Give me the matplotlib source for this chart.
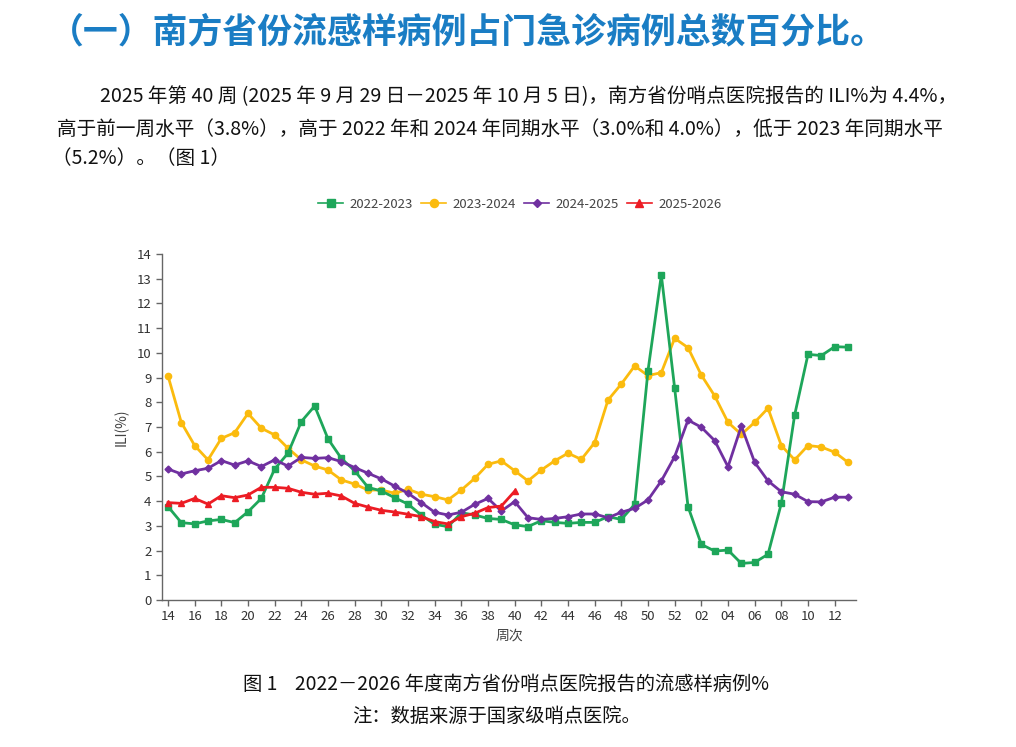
import matplotlib
matplotlib.use("Agg")
import matplotlib.pyplot as plt

plt.rcParams['font.family'] = ['Noto Sans CJK SC', 'DejaVu Sans']

weeks = ["14", "15", "16", "17", "18", "19", "20", "21", "22", "23", "24", "25", "26",
         "27", "28", "29", "30", "31", "32", "33", "34", "35", "36", "37", "38", "39",
         "40", "41", "42", "43", "44", "45", "46", "47", "48", "49", "50", "51", "52",
         "01", "02", "03", "04", "05", "06", "07", "08", "09", "10", "11", "12", "13"]

s2022 = [3.78, 3.13, 3.08, 3.20, 3.26, 3.13, 3.57, 4.11, 5.30, 5.94, 7.22, 7.85, 6.52,
         5.73, 5.23, 4.56, 4.41, 4.14, 3.88, 3.44, 3.06, 2.97, 3.53, 3.44, 3.30, 3.26,
         3.04, 2.97, 3.21, 3.14, 3.10, 3.14, 3.14, 3.37, 3.26, 3.87, 9.28, 13.15, 8.57,
         3.78, 2.25, 1.98, 2.02, 1.48, 1.52, 1.85, 3.91, 7.49, 9.94, 9.89, 10.25, 10.23]

s2023 = [9.07, 7.18, 6.25, 5.67, 6.54, 6.77, 7.55, 6.95, 6.68, 6.14, 5.67, 5.42, 5.26,
         4.86, 4.69, 4.45, 4.45, 4.32, 4.48, 4.28, 4.18, 4.05, 4.45, 4.92, 5.49, 5.63,
         5.23, 4.82, 5.26, 5.63, 5.94, 5.69, 6.37, 8.09, 8.74, 9.47, 9.08, 9.20, 10.59,
         10.21, 9.10, 8.26, 7.19, 6.70, 7.19, 7.76, 6.25, 5.67, 6.25, 6.19, 5.98, 5.57]

s2024 = [5.30, 5.10, 5.23, 5.33, 5.64, 5.46, 5.63, 5.40, 5.67, 5.42, 5.77, 5.73, 5.76,
         5.60, 5.36, 5.13, 4.90, 4.61, 4.32, 3.94, 3.55, 3.44, 3.55, 3.87, 4.11, 3.60,
         3.98, 3.33, 3.26, 3.30, 3.37, 3.48, 3.48, 3.33, 3.55, 3.71, 4.05, 4.82, 5.80,
         7.28, 6.99, 6.45, 5.39, 7.04, 5.57, 4.82, 4.38, 4.28, 3.98, 3.97, 4.16, 4.16]

s2025 = [3.94, 3.91, 4.11, 3.88, 4.22, 4.14, 4.25, 4.56, 4.56, 4.52, 4.36, 4.28, 4.32,
         4.21, 3.91, 3.76, 3.63, 3.56, 3.47, 3.37, 3.17, 3.08, 3.37, 3.51, 3.74, 3.80, 4.40]

series_names = ["2022-2023", "2023-2024", "2024-2025", "2025-2026"]

title = "（一）南方省份流感样病例占门急诊病例总数百分比。"
para = ["2025 年第 40 周 (2025 年 9 月 29 日－2025 年 10 月 5 日)，南方省份哨点医院报告的 ILI%为 4.4%，",
        "高于前一周水平（3.8%），高于 2022 年和 2024 年同期水平（3.0%和 4.0%），低于 2023 年同期水平",
        "（5.2%）。（图 1）"]
caption1 = "图 1    2022－2026 年度南方省份哨点医院报告的流感样病例%"
caption2 = "注：数据来源于国家级哨点医院。"

W, H = 1016, 747
fig = plt.figure(figsize=(W / 100, H / 100), dpi=100)

fig.text(49 / W, 1 - 32 / H, title, fontsize=25.1, color="#1a7dc4", fontweight="bold",
         va="center", ha="left")
fig.text(100 / W, 1 - 97 / H, para[0], fontsize=14.1, color="#111111", va="center", ha="left")
fig.text(57 / W, 1 - 129 / H, para[1], fontsize=14.1, color="#111111", va="center", ha="left")
fig.text(52 / W, 1 - 159 / H, para[2], fontsize=14.1, color="#111111", va="center", ha="left")

ax = fig.add_axes([162 / W, 1 - 600 / H, (856 - 162) / W, (600 - 254) / H])

x = list(range(len(weeks)))
c_green, c_yellow, c_purple, c_red = "#1ea65a", "#fbbb0e", "#7030a0", "#ec1c24"
lw = 2.0
ax.plot(x, s2022, color=c_green, lw=lw, marker="s", ms=4.5, label=series_names[0], zorder=3)
ax.plot(x, s2023, color=c_yellow, lw=lw, marker="o", ms=4.5, label=series_names[1], zorder=2)
ax.plot(x, s2024, color=c_purple, lw=lw, marker="D", ms=3.5, label=series_names[2], zorder=4)
ax.plot(x[:len(s2025)], s2025, color=c_red, lw=lw, marker="^", ms=4.5, label=series_names[3], zorder=5)

ax.set_ylim(0, 14)
ax.set_xlim(-0.45, 51.6)
ax.set_yticks(range(0, 15))
ax.set_xticks(x[::2])
ax.set_xticklabels(weeks[::2])
for s in ["top", "right"]:
    ax.spines[s].set_visible(False)
for s in ["left", "bottom"]:
    ax.spines[s].set_color("#666666")
    ax.spines[s].set_linewidth(1.0)
ax.tick_params(axis="both", colors="#666666", labelcolor="#333333", labelsize=9.5,
               length=4, width=1)
ax.set_ylabel("ILI(%)", fontsize=10, color="#444444", labelpad=6)
ax.set_xlabel("周次", fontsize=10, color="#444444", labelpad=4)

handles, labels = ax.get_legend_handles_labels()
leg = fig.legend(handles, labels, loc="center", bbox_to_anchor=(520 / W, 1 - 204 / H),
                 ncol=4, frameon=False, fontsize=9.5, handlelength=1.9, columnspacing=0.6,
                 handletextpad=0.5, markerscale=1.3)
for t in leg.get_texts():
    t.set_color("#444444")
for h in leg.get_lines():
    h.set_linewidth(1.2)

fig.text(506 / W, 1 - 684 / H, caption1, fontsize=13.9, color="#111111", va="center", ha="center")
fig.text(497 / W, 1 - 716 / H, caption2, fontsize=13.9, color="#111111", va="center", ha="center")

fig.savefig("out.png", dpi=100)
